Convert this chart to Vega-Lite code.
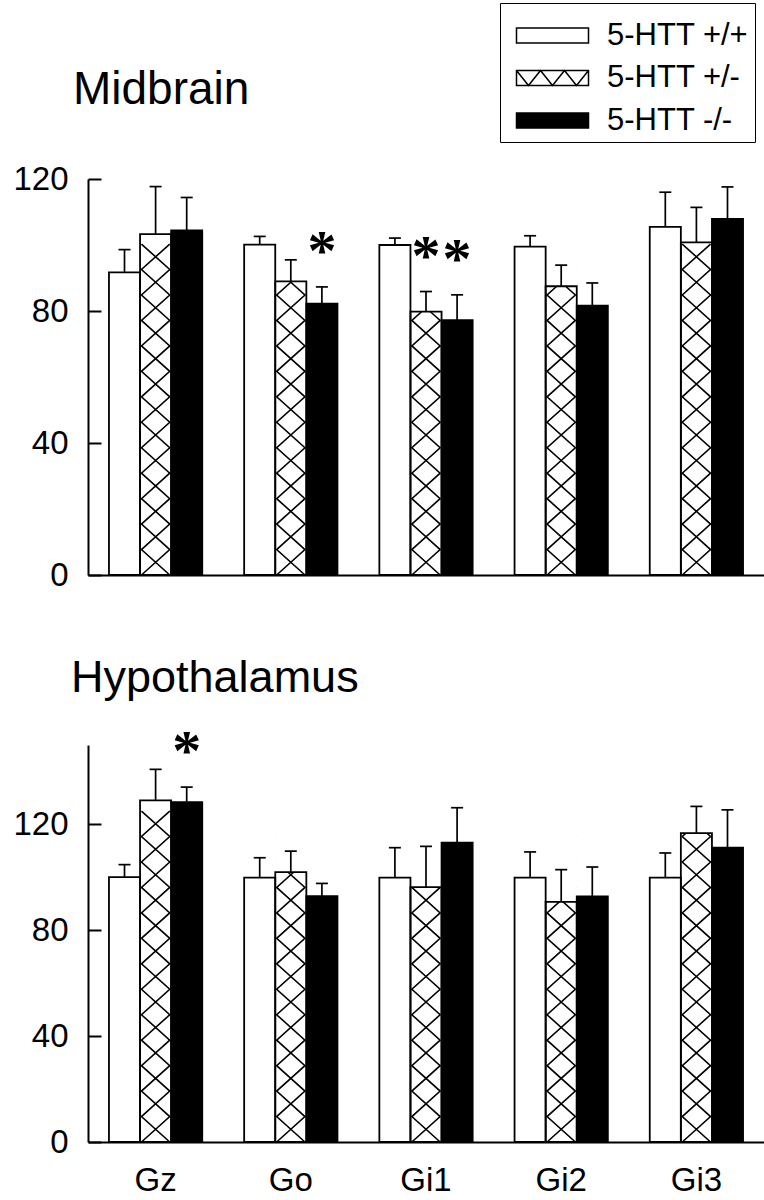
{
  "$schema": "https://vega.github.io/schema/vega-lite/v6.json",
  "background": "white",
  "padding": {"left": 12, "top": 2, "right": 0, "bottom": 0},
  "spacing": 64,
  "config": {
    "font": "Liberation Sans",
    "view": {"stroke": null},
    "axis": {"domainColor": "black", "domainWidth": 2, "tickColor": "black", "tickWidth": 2, "labelColor": "black", "labelFont": "Liberation Sans", "labelFontSize": 33, "grid": false, "zindex": 1},
    "axisY": {"tickSize": -13, "labelPadding": 33},
    "axisX": {"ticks": false, "labelPadding": 22, "labelAngle": 0},
    "title": {"font": "Liberation Sans", "fontWeight": "normal", "color": "black", "anchor": "start", "frame": "group", "baseline": "alphabetic"}
  },
  "datasets": {
    "bars": [
      {"region": "Midbrain", "protein": "Gz", "genotype": "5-HTT +/+", "value": 91.7, "upper": 98.6, "sig": false},
      {"region": "Midbrain", "protein": "Gz", "genotype": "5-HTT +/-", "value": 103.3, "upper": 117.7, "sig": false},
      {"region": "Midbrain", "protein": "Gz", "genotype": "5-HTT -/-", "value": 104.4, "upper": 114.4, "sig": false},
      {"region": "Midbrain", "protein": "Go", "genotype": "5-HTT +/+", "value": 100.1, "upper": 102.6, "sig": false},
      {"region": "Midbrain", "protein": "Go", "genotype": "5-HTT +/-", "value": 89.0, "upper": 95.5, "sig": false},
      {"region": "Midbrain", "protein": "Go", "genotype": "5-HTT -/-", "value": 82.2, "upper": 87.3, "sig": true},
      {"region": "Midbrain", "protein": "Gi1", "genotype": "5-HTT +/+", "value": 100.0, "upper": 102.1, "sig": false},
      {"region": "Midbrain", "protein": "Gi1", "genotype": "5-HTT +/-", "value": 79.8, "upper": 85.9, "sig": true},
      {"region": "Midbrain", "protein": "Gi1", "genotype": "5-HTT -/-", "value": 77.2, "upper": 84.9, "sig": true},
      {"region": "Midbrain", "protein": "Gi2", "genotype": "5-HTT +/+", "value": 99.5, "upper": 102.8, "sig": false},
      {"region": "Midbrain", "protein": "Gi2", "genotype": "5-HTT +/-", "value": 87.5, "upper": 93.9, "sig": false},
      {"region": "Midbrain", "protein": "Gi2", "genotype": "5-HTT -/-", "value": 81.6, "upper": 88.5, "sig": false},
      {"region": "Midbrain", "protein": "Gi3", "genotype": "5-HTT +/+", "value": 105.5, "upper": 116.0, "sig": false},
      {"region": "Midbrain", "protein": "Gi3", "genotype": "5-HTT +/-", "value": 100.8, "upper": 111.4, "sig": false},
      {"region": "Midbrain", "protein": "Gi3", "genotype": "5-HTT -/-", "value": 107.9, "upper": 117.6, "sig": false},
      {"region": "Hypothalamus", "protein": "Gz", "genotype": "5-HTT +/+", "value": 100.1, "upper": 104.8, "sig": false},
      {"region": "Hypothalamus", "protein": "Gz", "genotype": "5-HTT +/-", "value": 129.1, "upper": 140.8, "sig": false},
      {"region": "Hypothalamus", "protein": "Gz", "genotype": "5-HTT -/-", "value": 128.4, "upper": 134.1, "sig": true},
      {"region": "Hypothalamus", "protein": "Go", "genotype": "5-HTT +/+", "value": 99.9, "upper": 107.4, "sig": false},
      {"region": "Hypothalamus", "protein": "Go", "genotype": "5-HTT +/-", "value": 102.0, "upper": 109.9, "sig": false},
      {"region": "Hypothalamus", "protein": "Go", "genotype": "5-HTT -/-", "value": 92.9, "upper": 97.7, "sig": false},
      {"region": "Hypothalamus", "protein": "Gi1", "genotype": "5-HTT +/+", "value": 99.9, "upper": 111.2, "sig": false},
      {"region": "Hypothalamus", "protein": "Gi1", "genotype": "5-HTT +/-", "value": 96.3, "upper": 111.7, "sig": false},
      {"region": "Hypothalamus", "protein": "Gi1", "genotype": "5-HTT -/-", "value": 113.1, "upper": 126.3, "sig": false},
      {"region": "Hypothalamus", "protein": "Gi2", "genotype": "5-HTT +/+", "value": 99.9, "upper": 109.6, "sig": false},
      {"region": "Hypothalamus", "protein": "Gi2", "genotype": "5-HTT +/-", "value": 90.7, "upper": 102.9, "sig": false},
      {"region": "Hypothalamus", "protein": "Gi2", "genotype": "5-HTT -/-", "value": 92.8, "upper": 103.9, "sig": false},
      {"region": "Hypothalamus", "protein": "Gi3", "genotype": "5-HTT +/+", "value": 99.9, "upper": 109.2, "sig": false},
      {"region": "Hypothalamus", "protein": "Gi3", "genotype": "5-HTT +/-", "value": 116.7, "upper": 126.8, "sig": false},
      {"region": "Hypothalamus", "protein": "Gi3", "genotype": "5-HTT -/-", "value": 111.2, "upper": 125.5, "sig": false}
    ]
  },
  "vconcat": [
    {
      "width": 676,
      "height": 396,
      "title": {"text": "Midbrain", "fontSize": 46, "offset": 49, "dx": -15},
      "data": {"name": "bars"},
      "transform": [{"filter": "datum.region === 'Midbrain'"}],
      "encoding": {
        "x": {"field": "protein", "type": "nominal", "sort": ["Gz", "Go", "Gi1", "Gi2", "Gi3"], "title": null, "scale": {"paddingInner": 0.31, "paddingOuter": 0.155}, "axis": {"labels": false}},
        "xOffset": {"field": "genotype", "type": "nominal", "sort": ["5-HTT +/+", "5-HTT +/-", "5-HTT -/-"], "scale": {"paddingInner": 0, "paddingOuter": 0}}
      },
      "layer": [
        {
          "transform": [{"filter": "datum.genotype === '5-HTT +/-'"}],
          "mark": {"type": "point", "shape": "M-1,0L1,-1.8L-1,-3.6L1,-5.4L-1,-7.2L1,-9L-1,-10.8L1,-12.6L-1,-14.4L1,-16.2L-1,-18L1,-19.8L-1,-21.6L1,-23.4M1,0L-1,-1.8L1,-3.6L-1,-5.4L1,-7.2L-1,-9L1,-10.8L-1,-12.6L1,-14.4L-1,-16.2L1,-18L-1,-19.8L1,-21.6L-1,-23.4", "size": 800, "filled": false, "stroke": "black", "strokeWidth": 1.6, "opacity": 1},
          "encoding": {"y": {"datum": 0, "type": "quantitative", "title": null, "scale": {"domain": [0, 120], "nice": false}, "axis": {"values": [0, 40, 80, 120], "title": null}}}
        },
        {
          "transform": [{"filter": "datum.genotype === '5-HTT +/-'"}],
          "mark": {"type": "bar", "fill": "white", "strokeWidth": 0},
          "encoding": {"y": {"field": "value", "type": "quantitative", "title": null}, "y2": {"datum": 120}}
        },
        {
          "mark": {"type": "bar", "stroke": "black", "strokeWidth": 1.8},
          "encoding": {
            "y": {"field": "value", "type": "quantitative", "title": null},
            "fill": {"field": "genotype", "type": "nominal", "scale": {"domain": ["5-HTT +/+", "5-HTT +/-", "5-HTT -/-"], "range": ["white", "transparent", "black"]},
              "legend": {"title": " ", "titleFontSize": 1, "titlePadding": 10, "orient": "none", "legendX": 412, "legendY": -176, "strokeColor": "black", "padding": 6, "symbolSize": 576, "symbolStrokeWidth": 1.5, "symbolStrokeColor": "black", "labelFont": "Liberation Sans", "labelFontSize": 31, "labelColor": "black", "labelOffset": 70, "rowPadding": 10.5}}
          }
        },
        {
          "mark": {"type": "rule", "strokeWidth": 1.7, "color": "black"},
          "encoding": {"y": {"field": "value", "type": "quantitative", "title": null}, "y2": {"field": "upper"}}
        },
        {
          "mark": {"type": "tick", "size": 12, "thickness": 1.7, "color": "black", "opacity": 1},
          "encoding": {"y": {"field": "upper", "type": "quantitative", "title": null}}
        },
        {
          "transform": [{"filter": "datum.sig"}],
          "mark": {"type": "text", "text": "*", "font": "Liberation Serif", "fontWeight": "bold", "fontSize": 58, "baseline": "alphabetic", "dy": -17, "color": "black"},
          "encoding": {"y": {"field": "upper", "type": "quantitative", "title": null}}
        },
        {
          "transform": [{"filter": "false"}],
          "mark": {"type": "point", "filled": true, "stroke": "black", "strokeWidth": 1.5, "opacity": 1},
          "encoding": {
            "fill": {"field": "genotype", "type": "nominal", "scale": {"domain": ["5-HTT +/+", "5-HTT +/-", "5-HTT -/-"], "range": ["white", "transparent", "black"]},
              "legend": {"title": " ", "titleFontSize": 1, "titlePadding": 10, "orient": "none", "legendX": 412, "legendY": -176, "strokeColor": "black", "padding": 6, "symbolSize": 576, "symbolStrokeWidth": 1.5, "symbolStrokeColor": "black", "labelFont": "Liberation Sans", "labelFontSize": 31, "labelColor": "black", "labelOffset": 70, "rowPadding": 10.5}},
            "shape": {"field": "genotype", "type": "nominal", "scale": {"domain": ["5-HTT +/+", "5-HTT +/-", "5-HTT -/-"], "range": ["M-0.4167,-0.625H5.5833V0.625H-0.4167Z", "M-0.4167,-0.625H5.5833V0.625H-0.4167ZM-0.4167,-0.625L0.5833,0.625L1.5833,-0.625L2.5833,0.625L3.5833,-0.625L4.5833,0.625L5.5833,-0.625", "M-0.4167,-0.625H5.5833V0.625H-0.4167Z"]},
              "legend": {"title": " ", "titleFontSize": 1, "titlePadding": 10, "orient": "none", "legendX": 412, "legendY": -176, "strokeColor": "black", "padding": 6, "symbolSize": 576, "symbolStrokeWidth": 1.5, "symbolStrokeColor": "black", "labelFont": "Liberation Sans", "labelFontSize": 31, "labelColor": "black", "labelOffset": 70, "rowPadding": 10.5}}
          }
        }
      ]
    },
    {
      "width": 676,
      "height": 397,
      "title": {"text": "Hypothalamus", "fontSize": 45, "offset": 23, "dx": -17},
      "data": {"name": "bars"},
      "transform": [{"filter": "datum.region === 'Hypothalamus'"}],
      "encoding": {
        "x": {"field": "protein", "type": "nominal", "sort": ["Gz", "Go", "Gi1", "Gi2", "Gi3"], "title": null, "scale": {"paddingInner": 0.31, "paddingOuter": 0.155}, "axis": {"labels": true}},
        "xOffset": {"field": "genotype", "type": "nominal", "sort": ["5-HTT +/+", "5-HTT +/-", "5-HTT -/-"], "scale": {"paddingInner": 0, "paddingOuter": 0}}
      },
      "layer": [
        {
          "transform": [{"filter": "datum.genotype === '5-HTT +/-'"}],
          "mark": {"type": "point", "shape": "M-1,0L1,-1.8L-1,-3.6L1,-5.4L-1,-7.2L1,-9L-1,-10.8L1,-12.6L-1,-14.4L1,-16.2L-1,-18L1,-19.8L-1,-21.6L1,-23.4M1,0L-1,-1.8L1,-3.6L-1,-5.4L1,-7.2L-1,-9L1,-10.8L-1,-12.6L1,-14.4L-1,-16.2L1,-18L-1,-19.8L1,-21.6L-1,-23.4", "size": 800, "filled": false, "stroke": "black", "strokeWidth": 1.6, "opacity": 1},
          "encoding": {"y": {"datum": 0, "type": "quantitative", "title": null, "scale": {"domain": [0, 150], "nice": false}, "axis": {"values": [0, 40, 80, 120], "title": null}}}
        },
        {
          "transform": [{"filter": "datum.genotype === '5-HTT +/-'"}],
          "mark": {"type": "bar", "fill": "white", "strokeWidth": 0},
          "encoding": {"y": {"field": "value", "type": "quantitative", "title": null}, "y2": {"datum": 150}}
        },
        {
          "mark": {"type": "bar", "stroke": "black", "strokeWidth": 1.8},
          "encoding": {
            "y": {"field": "value", "type": "quantitative", "title": null},
            "fill": {"field": "genotype", "type": "nominal", "scale": {"domain": ["5-HTT +/+", "5-HTT +/-", "5-HTT -/-"], "range": ["white", "transparent", "black"]},
              "legend": {"title": " ", "titleFontSize": 1, "titlePadding": 10, "orient": "none", "legendX": 412, "legendY": -176, "strokeColor": "black", "padding": 6, "symbolSize": 576, "symbolStrokeWidth": 1.5, "symbolStrokeColor": "black", "labelFont": "Liberation Sans", "labelFontSize": 31, "labelColor": "black", "labelOffset": 70, "rowPadding": 10.5}}
          }
        },
        {
          "mark": {"type": "rule", "strokeWidth": 1.7, "color": "black"},
          "encoding": {"y": {"field": "value", "type": "quantitative", "title": null}, "y2": {"field": "upper"}}
        },
        {
          "mark": {"type": "tick", "size": 12, "thickness": 1.7, "color": "black", "opacity": 1},
          "encoding": {"y": {"field": "upper", "type": "quantitative", "title": null}}
        },
        {
          "transform": [{"filter": "datum.sig"}],
          "mark": {"type": "text", "text": "*", "font": "Liberation Serif", "fontWeight": "bold", "fontSize": 58, "baseline": "alphabetic", "dy": -17, "color": "black"},
          "encoding": {"y": {"field": "upper", "type": "quantitative", "title": null}}
        }
      ]
    }
  ]
}
